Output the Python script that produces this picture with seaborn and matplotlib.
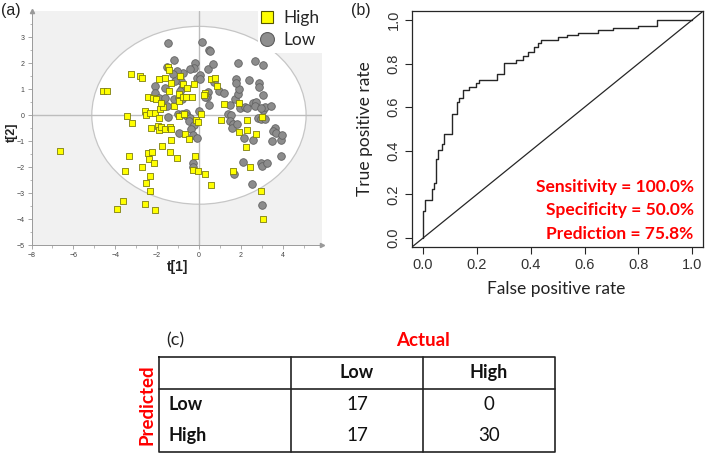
import numpy as np
import pandas as pd
import matplotlib
matplotlib.use("Agg")
import matplotlib.pyplot as plt
import seaborn as sns
from matplotlib.patches import Ellipse, Rectangle
from matplotlib.lines import Line2D

# ---------------- data ----------------
high_t1 = [-6.62, -4.57, -4.41, -3.26, -2.82, -2.72, -3.42, -3.20, -3.34, -3.55,
           -3.65, -3.90, -2.60, -2.09, -2.36, -2.53, -2.36, -2.74, -2.40, -2.45,
           -2.25, -2.17, -2.58, -2.55, -2.32, -2.44, -2.18, -2.28, -2.09, -2.04,
           -1.88, -1.93, -1.96, -1.93, -1.80, -1.70, -1.89, -1.64, -1.82, -1.62,
           -1.78, -1.46, -1.43, -1.32, -1.42, -1.39, -1.32, -1.32, -1.39, -1.19,
           -1.07, -0.97, -0.96, -0.94, -0.91, -0.76, -0.78, -0.70, -0.67, -0.59,
           -0.62, -0.48, -0.33, -0.24, -0.18, -0.30, -0.06, -0.14, -0.05, 0.11,
           0.29, 0.27, 0.24, 0.56, 0.78, 0.84, 0.59, 1.07, 1.19, 1.64,
           1.91, 1.91, 2.29, 2.28, 2.23, 2.44, 2.71, 2.95, 3.04, 3.03]
high_t2 = [-1.37, 0.94, 0.95, 1.60, 1.51, 1.44, -0.04, -0.31, -1.56, -2.15,
           -3.28, -3.62, -3.41, -3.63, -2.91, -2.59, -2.32, -1.97, -1.68, -1.46,
           -1.40, -1.83, 0.18, 0.01, 0.10, 0.69, 0.65, -0.49, 0.10, 0.62,
           0.24, -0.09, -0.41, -0.56, -0.44, 0.31, 1.38, 1.44, 0.46, -0.51,
           -1.18, 1.87, 1.74, 1.26, 0.92, -0.44, -0.54, -0.94, -1.42, 0.37,
           -1.63, 0.81, 0.56, -0.04, 1.53, 1.21, 0.69, 0.06, -0.73, 1.04,
           0.72, -0.92, 0.72, 1.22, -1.55, -2.10, -2.15, -0.18, -0.24, 0.04,
           -2.24, 0.86, 0.78, 1.41, 1.44, 1.14, -2.68, -0.18, 0.44, -2.15,
           0.49, -0.64, -0.18, -0.56, -1.23, -2.00, -0.73, -2.91, -3.97, -0.08]

low_t1 = [-1.46, 0.16, 0.49, 0.54, -1.21, -1.51, -0.19, -0.24, -0.43, -0.76,
          -1.05, -1.24, -0.88, -1.16, -0.08, 0.06, 0.05, 0.45, 0.67, 0.72,
          0.41, 0.38, 0.48, 0.97, 1.21, -2.09, -2.12, -1.93, -1.61, -1.54,
          -1.19, -0.96, -0.83, -0.80, -0.89, -1.02, -0.81, -0.62, -0.59, -0.43,
          -0.49, -0.24, -0.37, -0.27, -1.46, -0.97, -0.11, -0.02, -0.27, -0.30,
          1.50, 1.39, 1.54, 1.48, 1.64, 1.59, 1.80, 1.74, 1.85, 1.91,
          1.77, 1.77, 1.86, 1.96, 2.18, 2.32, 2.39, 2.17, 2.09, 2.58,
          2.72, 2.66, 2.60, 2.53, 2.66, 3.07, 2.88, 2.85, 3.07, 3.07,
          3.15, 2.98, 2.83, 2.98, 3.17, 2.95, 3.00, 3.23, 3.01, 3.43,
          3.63, 3.55, 3.68, 3.50, 3.92, 3.96, 3.93, 1.67, 0.27, -1.62]
low_t2 = [2.79, 2.83, 2.51, 2.49, 2.13, 1.87, 2.03, 1.81, 1.78, 1.62,
          1.71, 1.59, 1.31, 1.32, 1.45, 1.54, 1.38, 1.78, 1.97, 1.28,
          0.90, 0.71, 0.38, 0.94, 0.87, 1.13, 0.85, 0.67, 0.68, 0.36,
          0.62, 0.68, 0.64, 1.04, 0.94, 0.05, 0.05, 0.08, -0.03, -0.09,
          -0.21, -0.36, -0.54, -0.76, -0.05, -0.67, -0.88, 0.15, -1.85, -2.00,
          0.38, 0.05, 0.01, -0.21, -0.33, -0.47, -0.35, 0.63, 0.82, 1.00,
          1.41, 1.24, 2.03, 0.29, 0.31, 0.27, 1.36, -0.88, -1.79, 0.46,
          0.50, 0.36, -0.95, -2.63, 2.09, 1.94, 1.26, 1.08, 0.78, 0.21,
          0.31, 0.27, -0.10, -0.13, -0.15, -1.82, -1.94, -1.85, -3.44, 0.37,
          -0.50, -0.60, -0.67, -0.97, -0.96, -0.74, -1.58, -2.26, 0.71, 1.04]

roc_fpr = [0.0, 0.0, 0.009, 0.032, 0.042, 0.049, 0.054, 0.072, 0.079, 0.106,
           0.127, 0.135, 0.150, 0.172, 0.197, 0.209, 0.273, 0.302, 0.347, 0.370,
           0.391, 0.413, 0.426, 0.440, 0.502, 0.533, 0.576, 0.650, 0.706, 0.799,
           0.869, 1.0]
roc_tpr = [0.0, 0.124, 0.173, 0.227, 0.253, 0.363, 0.403, 0.433, 0.479, 0.571,
           0.625, 0.643, 0.681, 0.691, 0.712, 0.724, 0.752, 0.801, 0.816, 0.835,
           0.851, 0.877, 0.896, 0.908, 0.920, 0.931, 0.942, 0.954, 0.962, 0.972,
           1.0, 1.0]

metric_names = ["Sensitivity", "Specificity", "Prediction"]
metric_values = ["100.0%", "50.0%", "75.8%"]

actual_classes = ["Low", "High"]
predicted_classes = ["Low", "High"]
counts_pred_low = [17, 0]
counts_pred_high = [17, 30]

# ---------------- figure ----------------
sns.set_theme(style="white")
plt.rcParams["font.family"] = ["Liberation Sans", "DejaVu Sans"]

W, H = 709, 458
fig = plt.figure(figsize=(W / 100, H / 100), dpi=100)
fig.patch.set_facecolor("white")


def px_axes(l, t, r, b):
    return fig.add_axes([l / W, 1 - b / H, (r - l) / W, (b - t) / H])


def fx(x):
    return x / W


def fy(y):
    return 1 - y / H


CAL = ["Lato", "DejaVu Sans"]

# ---------------- panel (a) ----------------
axA = px_axes(31.5, 11.3, 322, 245.3)
axA.set_xlim(-8, 5.88)
axA.set_ylim(-5, 4.0)
axA.set_facecolor("#f1f1f1")
axA.add_patch(Ellipse((0, 0), 2 * 5.12, 2 * 3.42, facecolor="white",
                      edgecolor="#c6c6c6", lw=0.9, zorder=0.5))
axA.axhline(0, color="#bdbdbd", lw=1.0, zorder=0.6)
axA.axvline(0, color="#bdbdbd", lw=1.0, zorder=0.6)
axA.add_patch(Rectangle((2.82, 2.40), 4, 2, facecolor="white",
                        edgecolor="none", zorder=0.7))

df_low = pd.DataFrame({"t1": low_t1, "t2": low_t2})
df_high = pd.DataFrame({"t1": high_t1, "t2": high_t2})
sns.scatterplot(data=df_low, x="t1", y="t2", marker="o", s=30,
                color="#8c8c8c", edgecolor="#626262", linewidth=0.6,
                ax=axA, zorder=3, legend=False)
sns.scatterplot(data=df_high, x="t1", y="t2", marker="s", s=24,
                color="#ffff00", edgecolor="#7d7d10", linewidth=0.6,
                ax=axA, zorder=4, legend=False)

for side in ["top", "right"]:
    axA.spines[side].set_visible(False)
for side in ["left", "bottom"]:
    axA.spines[side].set_color("#9a9a9a")
    axA.spines[side].set_linewidth(0.7)
axA.set_xticks(np.arange(-8, 5, 2))
axA.set_xticks(np.arange(-7, 6, 1), minor=True)
axA.set_yticks(np.arange(-5, 4, 1))
axA.set_yticks(np.arange(-4.5, 4, 1), minor=True)
axA.tick_params(axis="both", which="major", labelsize=5, length=3, width=0.6,
                color="#9a9a9a", labelcolor="#444444", pad=2, direction="out",
                bottom=True, left=True)
axA.tick_params(axis="both", which="minor", length=1.8, width=0.5,
                color="#9a9a9a", direction="out", bottom=True, left=True)
axA.set_xlabel("")
axA.set_ylabel("")
axA.plot([5.88], [-5], marker=">", ms=3, color="#9a9a9a", clip_on=False)
axA.plot([-8], [4.0], marker="^", ms=3, color="#9a9a9a", clip_on=False)

handles = [Line2D([], [], marker="s", ls="none", ms=9, mfc="#ffff00",
                  mec="#555500", mew=0.8),
           Line2D([], [], marker="o", ls="none", ms=10, mfc="#8e8e8e",
                  mec="#5e5e5e", mew=0.8)]
leg = axA.legend(handles, ["High", "Low"], loc="upper left",
                 bbox_to_anchor=(fx(258.5), fy(10.5)),
                 bbox_transform=fig.transFigure, frameon=False,
                 prop={"family": CAL, "size": 12.5}, handlelength=1.0,
                 handletextpad=0.45, labelspacing=0.3, borderpad=0,
                 borderaxespad=0)
leg.set_zorder(10)

fig.text(fx(178), fy(267), "t[1]", fontsize=10, fontweight="bold",
         ha="center", va="center", color="#222222")
fig.text(fx(12), fy(132), "t[2]", fontsize=9, fontweight="bold",
         ha="center", va="center", rotation=90, color="#222222")
fig.text(fx(1), fy(10), "(a)", fontsize=11.5, ha="left", va="center",
         color="#222222")

# ---------------- panel (b) ----------------
axB = px_axes(411.7, 11, 703, 247)
axB.set_xlim(-0.042, 1.04)
axB.set_ylim(-0.041, 1.041)
sns.lineplot(x=roc_fpr, y=roc_tpr, estimator=None, sort=False,
             drawstyle="steps-post", color="#262626", lw=1.0, ax=axB)
axB.axline((0, 0), (1, 1), color="#262626", lw=0.9)
for side in axB.spines.values():
    side.set_visible(True)
    side.set_color("#262626")
    side.set_linewidth(0.9)
ticks = np.round(np.arange(0, 1.01, 0.2), 1)
axB.set_xticks(ticks)
axB.set_yticks(ticks)
axB.set_xticklabels([f"{t:.1f}" for t in ticks])
axB.set_yticklabels([f"{t:.1f}" for t in ticks], rotation=90, va="center")
axB.tick_params(axis="both", length=5, width=0.8, color="#262626",
                labelsize=10.5, labelcolor="#333333", direction="out",
                bottom=True, left=True, pad=3)
axB.set_xlabel("")
axB.set_ylabel("")
fig.text(fx(556), fy(289), "False positive rate", fontsize=12.5,
         family=CAL, ha="center", va="center", color="#222222")
fig.text(fx(365), fy(129), "True positive rate", fontsize=12.5,
         family=CAL, ha="center", va="center", rotation=90, color="#222222")
for i, (nm, val) in enumerate(zip(metric_names, metric_values)):
    axB.text(1.005, 0.234 - i * 0.107, f"{nm} = {val}", color="#ff0000",
             fontsize=12.5, fontweight="bold", family=CAL,
             ha="right", va="center")
fig.text(fx(351), fy(10), "(b)", fontsize=11.5, ha="left", va="center",
         color="#222222")

# ---------------- panel (c) ----------------
axC = px_axes(159, 357, 555, 451.5)
axC.set_xlim(0, 3)
axC.set_ylim(3, 0)
axC.axis("off")
lc = "#222222"
lw = 1.2
axC.plot([0, 3, 3, 0, 0], [0, 0, 3, 3, 0], color=lc, lw=lw, clip_on=False)
axC.plot([1, 1], [0, 3], color=lc, lw=lw, clip_on=False)
axC.plot([2, 2], [0, 3], color=lc, lw=lw, clip_on=False)
axC.plot([0, 3], [1, 1], color=lc, lw=lw, clip_on=False)
for j, name in enumerate(actual_classes):
    axC.text(1.5 + j, 0.5, name, ha="center", va="center", fontsize=13,
             fontweight="bold", family=CAL, color="#111111")
rows = [counts_pred_low, counts_pred_high]
for i, name in enumerate(predicted_classes):
    axC.text(0.07, 1.5 + i, name, ha="left", va="center", fontsize=13,
             fontweight="bold", family=CAL, color="#111111")
    for j, v in enumerate(rows[i]):
        axC.text(1.5 + j, 1.5 + i, str(v), ha="center", va="center",
                 fontsize=13.5, family=CAL, color="#111111")
fig.text(fx(166), fy(340), "(c)", fontsize=13, family=CAL, ha="left",
         va="center", color="#222222")
fig.text(fx(423), fy(340), "Actual", fontsize=13.5, fontweight="bold",
         family=CAL, ha="center", va="center", color="#ff0000")
fig.text(fx(147), fy(405), "Predicted", fontsize=13.5, fontweight="bold",
         family=CAL, ha="center", va="center", rotation=90, color="#ff0000")

fig.savefig("out.png", dpi=100, facecolor="white")
